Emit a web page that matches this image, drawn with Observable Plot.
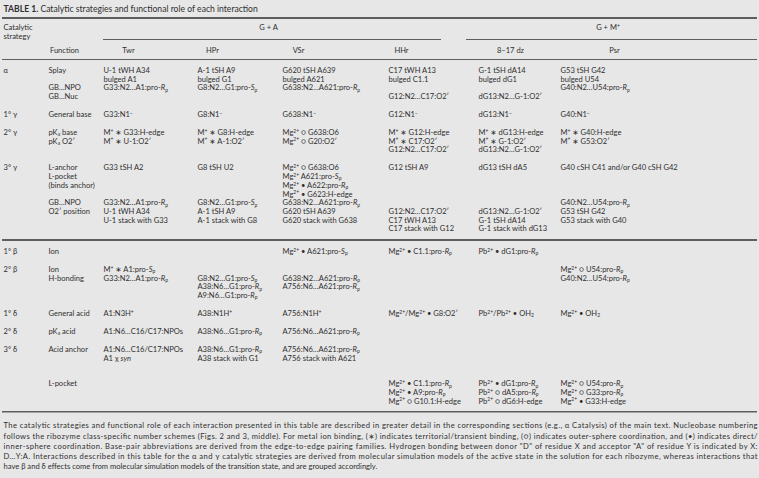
<!DOCTYPE html>
<html>
<head>
<meta charset="utf-8">
<script src="https://cdn.jsdelivr.net/npm/d3@7"></script>
<script src="https://cdn.jsdelivr.net/npm/@observablehq/plot@0.6"></script>
<style>
  html, body { margin: 0; padding: 0; background: #e7e7e7; }
</style>
</head>
<body>
<div id="chart"></div>
<script>
// ---------- DATA (markup: ^{sup} _{sub} *italic* ~{bold}) ----------
const titleText = "~{TABLE 1.} Catalytic strategies and functional role of each interaction";
const strategyHeader = ["Catalytic", "strategy"];
const spannerLabels = ["G + A", "G + M^{+}"];
const columnHeaders = ["Function", "Twr", "HPr", "VSr", "HHr", "8–17 dz", "Psr"];

const strategies = ["α", "1° γ", "2° γ", "3° γ", "1° β", "2° β", "1° δ", "2° δ", "3° δ", ""];

const functionCol = [
  ["Splay", "", "GB…NPO", "GB…Nuc"],
  ["General base"],
  ["pK_{a} base", "pK_{a} O2′"],
  ["L-anchor", "L-pocket", "(binds anchor)", "", "GB…NPO", "O2′ position"],
  ["Ion"],
  ["Ion", "H-bonding"],
  ["General acid"],
  ["pK_{a} acid"],
  ["Acid anchor"],
  ["L-pocket"]
];
const twrCol = [
  ["U-1 tWH A34", "bulged A1", "G33:N2…A1:pro-*R*_{p}"],
  ["G33:N1^{−}"],
  ["M^{+} ∗ G33:H-edge", "M^{+} ∗ U-1:O2′"],
  ["G33 tSH A2", "", "", "", "G33:N2…A1:pro-*R*_{p}", "U-1 tWH A34", "U-1 stack with G33"],
  [],
  ["M^{+} ∗ A1:pro-*S*_{p}", "G33:N2…A1:pro-*R*_{p}"],
  ["A1:N3H^{+}"],
  ["A1:N6…C16/C17:NPOs"],
  ["A1:N6…C16/C17:NPOs", "A1 χ *syn*"],
  []
];
const hprCol = [
  ["A-1 tSH A9", "bulged G1", "G8:N2…G1:pro-*S*_{p}"],
  ["G8:N1^{−}"],
  ["M^{+} ∗ G8:H-edge", "M^{+} ∗ A-1:O2′"],
  ["G8 tSH U2", "", "", "", "G8:N2…G1:pro-*S*_{p}", "A-1 tSH A9", "A-1 stack with G8"],
  [],
  ["", "G8:N2…G1:pro-*S*_{p}", "A38:N6…G1:pro-*R*_{p}", "A9:N6…G1:pro-*R*_{p}"],
  ["A38:N1H^{+}"],
  ["A38:N6…G1:pro-*R*_{p}"],
  ["A38:N6…G1:pro-*R*_{p}", "A38 stack with G1"],
  []
];
const vsrCol = [
  ["G620 tSH A639", "bulged A621", "G638:N2…A621:pro-*R*_{p}"],
  ["G638:N1^{−}"],
  ["Mg^{2+} ○ G638:O6", "Mg^{2+} ○ G20:O2′"],
  ["Mg^{2+} ○ G638:O6", "Mg^{2+} A621:pro-*S*_{p}", "Mg^{2+} • A622:pro-*R*_{p}", "Mg^{2+} • G623:H-edge", "G638:N2…A621:pro-*R*_{p}", "G620 tSH A639", "G620 stack with G638"],
  ["Mg^{2+} • A621:pro-*S*_{p}"],
  ["", "G638:N2…A621:pro-*R*_{p}", "A756:N6…A621:pro-*R*_{p}"],
  ["A756:N1H^{+}"],
  ["A756:N6…A621:pro-*R*_{p}"],
  ["A756:N6…A621:pro-*R*_{p}", "A756 stack with A621"],
  []
];
const hhrCol = [
  ["C17 tWH A13", "bulged C1.1", "", "G12:N2…C17:O2′"],
  ["G12:N1^{−}"],
  ["M^{+} ∗ G12:H-edge", "M^{+} ∗ C17:O2′", "G12:N2…C17:O2′"],
  ["G12 tSH A9", "", "", "", "", "G12:N2…C17:O2′", "C17 tWH A13", "C17 stack with G12"],
  ["Mg^{2+} • C1.1:pro-*R*_{p}"],
  [],
  ["Mg^{2+}/Mg^{2+} • G8:O2′"],
  [],
  [],
  ["Mg^{2+} • C1.1:pro-*R*_{p}", "Mg^{2+} • A9:pro-*R*_{p}", "Mg^{2+} ○ G10.1:H-edge"]
];
const dzCol = [
  ["G-1 tSH dA14", "bulged dG1", "", "dG13:N2…G-1:O2′"],
  ["dG13:N1^{−}"],
  ["M^{+} ∗ dG13:H-edge", "M^{+} ∗ G-1:O2′", "dG13:N2…G-1:O2′"],
  ["dG13 tSH dA5", "", "", "", "", "dG13:N2…G-1:O2′", "G-1 tSH dA14", "G-1 stack with dG13"],
  ["Pb^{2+} • dG1:pro-*R*_{p}"],
  [],
  ["Pb^{2+}/Pb^{2+} • OH_{2}"],
  [],
  [],
  ["Pb^{2+} • dG1:pro-*R*_{p}", "Pb^{2+} ○ dA5:pro-*R*_{p}", "Pb^{2+} ○ dG6:H-edge"]
];
const psrCol = [
  ["G53 tSH G42", "bulged U54", "G40:N2…U54:pro-*R*_{p}"],
  ["G40:N1^{−}"],
  ["M^{+} ∗ G40:H-edge", "M^{+} ∗ G53:O2′"],
  ["G40 cSH C41 and/or G40 cSH G42", "", "", "", "G40:N2…U54:pro-*R*_{p}", "G53 tSH G42", "G53 stack with G40"],
  [],
  ["Mg^{2+} ○ U54:pro-*R*_{p}", "G40:N2…U54:pro-*R*_{p}"],
  ["Mg^{2+} • OH_{2}"],
  [],
  [],
  ["Mg^{2+} ○ U54:pro-*R*_{p}", "Mg^{2+} ○ G33:pro-*R*_{p}", "Mg^{2+} • G33:H-edge"]
];

const captionLines = [
  "The catalytic strategies and functional role of each interaction presented in this table are described in greater detail in the corresponding sections (e.g., α Catalysis) of the main text. Nucleobase numbering",
  "follows the ribozyme class-specific number schemes (Figs. 2 and 3, middle). For metal ion binding, (∗) indicates territorial/transient binding, (○) indicates outer-sphere coordination, and (•) indicates direct/",
  "inner-sphere coordination. Base-pair abbreviations are derived from the edge-to-edge pairing families. Hydrogen bonding between donor \"D\" of residue X and acceptor \"A\" of residue Y is indicated by X:",
  "D…Y:A. Interactions described in this table for the α and γ catalytic strategies are derived from molecular simulation models of the active state in the solution for each ribozyme, whereas interactions that",
  "have β and δ effects come from molecular simulation models of the transition state, and are grouped accordingly."
];

// ---------- LAYOUT ----------
const W = 759, H = 478;
const FONT = "Lato, 'Open Sans', 'DejaVu Sans', sans-serif";
const FS = 7.55, TITLE_FS = 8.6, CAP_FS = 7.6;
const INK = "#2f2f2f", RULE = "#5e5e5e";
const colX = [3, 48, 103, 197, 282, 388, 478, 560];
const headerX = [64, 128, 212, 298, 401, 510, 614];
const spannerSpan = [[103, 441], [466, 757]];
const LINE = 8.7, BODY_TOP = 70;
// vertical step after each group (to first line of the next group)
const groupGap = [18, 18, 18, 22.6, 18, 18, 18, 18, 25.5, 0];
const columns = [functionCol, twrCol, hprCol, vsrCol, hhrCol, dzCol, psrCol];

const groupStart = [];
let yy = BODY_TOP, betaRuleY = 0, lastY = 0;
strategies.forEach((s, g) => {
  groupStart.push(yy);
  const n = Math.max(1, ...columns.map(c => c[g].length));
  lastY = yy + (n - 1) * LINE;
  if (g === 3) betaRuleY = lastY + 11;
  yy = lastY + groupGap[g];
});
const bottomRuleY = lastY + 10.5;

const cells = [];
strategies.forEach((s, g) => {
  if (s) cells.push({x: colX[0], y: groupStart[g], text: s});
  columns.forEach((col, c) => {
    col[g].forEach((t, k) => {
      if (t) cells.push({x: colX[c + 1], y: groupStart[g] + k * LINE, text: t});
    });
  });
});

const headerCells = [
  {x: colX[0], y: 27, text: strategyHeader[0]},
  {x: colX[0], y: 35.7, text: strategyHeader[1]}
];
const centered = [
  ...spannerLabels.map((t, i) => ({x: (spannerSpan[i][0] + spannerSpan[i][1]) / 2 - 4, y: 27, text: t})),
  ...columnHeaders.map((t, i) => ({x: headerX[i], y: 50, text: t}))
];
const rules = [
  {y: 17.5, x1: 2, x2: 757, w: 2},
  {y: 39, x1: spannerSpan[0][0], x2: spannerSpan[0][1], w: 1},
  {y: 39, x1: spannerSpan[1][0], x2: spannerSpan[1][1], w: 1},
  {y: 59, x1: 2, x2: 757, w: 1.2},
  {y: betaRuleY, x1: 2, x2: 757, w: 2},
  {y: bottomRuleY, x1: 2, x2: 757, w: 1.5}
];
const captionData = captionLines.map((t, i) => ({x: 3, y: 425.5 + i * 10.25, text: t}));

const chart = Plot.plot({
  width: W, height: H, margin: 0,
  x: {domain: [0, W], range: [0, W], axis: null},
  y: {domain: [0, H], range: [0, H], axis: null},
  style: {background: "#e7e7e7", fontFamily: FONT, color: INK},
  marks: [
    Plot.ruleY(rules, {y: "y", x1: "x1", x2: "x2", strokeWidth: "w", stroke: RULE}),
    Plot.text([{x: 3, y: 8.5, text: titleText}], {x: "x", y: "y", text: "text", textAnchor: "start", fontSize: TITLE_FS, fill: INK}),
    Plot.text(headerCells, {x: "x", y: "y", text: "text", textAnchor: "start", fontSize: FS, fill: INK}),
    Plot.text(centered, {x: "x", y: "y", text: "text", textAnchor: "middle", fontSize: FS, fill: INK}),
    Plot.text(cells, {x: "x", y: "y", text: "text", textAnchor: "start", fontSize: FS, fill: INK}),
    Plot.text(captionData, {x: "x", y: "y", text: "text", textAnchor: "start", fontSize: CAP_FS, fill: INK})
  ]
});
document.getElementById("chart").appendChild(chart);

// ---------- rich text post-processing ----------
function parse(s) {
  const segs = []; let buf = ""; let i = 0;
  const push = (t, st) => { if (t) segs.push({t, st}); };
  while (i < s.length) {
    const c = s[i];
    if ((c === "^" || c === "_" || c === "~") && s[i + 1] === "{") {
      push(buf, "n"); buf = "";
      const j = s.indexOf("}", i);
      push(s.slice(i + 2, j), c === "^" ? "sup" : c === "_" ? "sub" : "b");
      i = j + 1;
    } else if (c === "*") {
      push(buf, "n"); buf = "";
      const j = s.indexOf("*", i + 1);
      push(s.slice(i + 1, j), "i");
      i = j + 1;
    } else { buf += c; i++; }
  }
  push(buf, "n");
  return segs;
}
const NS = "http://www.w3.org/2000/svg";
const capSet = new Set(captionLines.slice(0, 4));
chart.querySelectorAll("text").forEach(t => {
  const s = t.textContent;
  if (capSet.has(s)) {
    t.setAttribute("textLength", 754);
    t.setAttribute("lengthAdjust", "spacing");
    return;
  }
  if (!/[\^_~*]/.test(s)) return;
  const fs = parseFloat(t.closest("g").getAttribute("font-size")) || FS;
  t.textContent = "";
  let shift = 0;
  for (const seg of parse(s)) {
    const ts = document.createElementNS(NS, "tspan");
    let target = 0;
    if (seg.st === "sup") { target = -0.3 * fs; ts.setAttribute("font-size", (0.66 * fs).toFixed(2)); }
    if (seg.st === "sub") { target = 0.17 * fs; ts.setAttribute("font-size", (0.66 * fs).toFixed(2)); }
    if (seg.st === "i") ts.setAttribute("font-style", "italic");
    if (seg.st === "b") ts.setAttribute("font-weight", "bold");
    const dy = target - shift;
    if (dy !== 0) ts.setAttribute("dy", dy.toFixed(2));
    shift = target;
    ts.textContent = seg.t;
    t.appendChild(ts);
  }
});
</script>
</body>
</html>
